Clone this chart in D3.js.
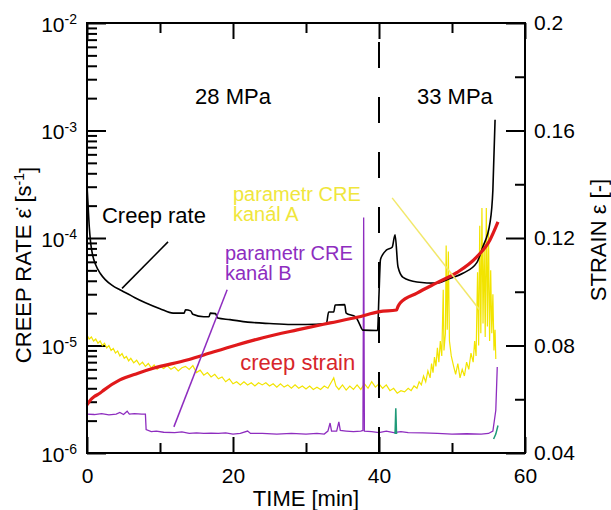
<!DOCTYPE html>
<html>
<head>
<meta charset="utf-8">
<script src="https://cdn.jsdelivr.net/npm/d3@7"></script>
<style>
    body { margin: 0; background: #fff; }
    svg text { font-family: "Liberation Sans", Arial, sans-serif; }
</style>
</head>
<body>
<svg id="chart" width="611" height="510"></svg>
<script>
// time [min], creep rate [1/s] (left log axis)
const creepRate = [
    [0, 3.1e-4], [0.15, 2.0e-4], [0.3, 1.3e-4], [0.5, 9.0e-5], [0.8, 6.8e-5], [1.2, 5.6e-5],
    [1.8, 4.7e-5], [2.5, 4.1e-5], [3.5, 3.6e-5], [4.5, 3.3e-5], [5.5, 3.05e-5], [6.5, 2.8e-5],
    [8, 2.5e-5], [10, 2.2e-5], [11.8, 2.0e-5], [13.3, 2.0e-5], [13.5, 2.15e-5], [14.2, 2.1e-5],
    [14.5, 1.95e-5], [16, 1.85e-5], [16.7, 1.85e-5], [16.9, 2.0e-5], [17.6, 1.98e-5], [17.9, 1.8e-5],
    [19.6, 1.74e-5], [22, 1.65e-5], [25, 1.6e-5], [28, 1.57e-5], [30, 1.57e-5], [32.8, 1.6e-5],
    [33.1, 2.05e-5], [33.8, 2.05e-5], [34.0, 2.38e-5], [35.3, 2.4e-5], [35.5, 2.0e-5], [36.8, 1.85e-5],
    [37.3, 1.6e-5], [37.8, 1.39e-5], [39.8, 1.38e-5], [40.0, 3.0e-5], [40.2, 6.3e-5], [40.5, 7.0e-5],
    [41.0, 7.7e-5], [41.8, 8.2e-5], [42.2, 1.07e-4], [42.6, 5.4e-5], [43.3, 4.3e-5], [45.2, 3.9e-5],
    [47.9, 3.8e-5], [49.7, 4.2e-5], [51.5, 4.7e-5], [53.4, 5.9e-5], [54.2, 8.2e-5], [55.2, 1.38e-4],
    [55.6, 2.8e-4], [55.9, 1.26e-3]
];

// time [min], creep strain [-] (right axis)
const creepStrain = [
    [0, 0.0579], [0.5, 0.0598], [1, 0.0610], [1.8, 0.0623], [2.3, 0.0634], [4.5, 0.0672],
    [7, 0.0697], [9.2, 0.0716], [13.7, 0.0746], [16, 0.0765], [20.5, 0.0802], [24.1, 0.0829],
    [28.8, 0.0858], [33.3, 0.0884], [37, 0.0905], [40.1, 0.0926], [42.4, 0.0932], [42.6, 0.0945],
    [42.9, 0.0958], [45.2, 0.0995], [47.9, 0.1033], [50.7, 0.1072], [53.4, 0.1130], [55.2, 0.1193],
    [56.3, 0.1260]
];

// parametr CRE, kanal A (left log axis)
const creA = [
    [0.0, 1.25e-5], [0.3, 1.15e-5], [0.6, 1.2e-5], [0.9, 1.1e-5], [1.2, 1.15e-5], [1.5, 1.05e-5],
    [1.8, 1.1e-5], [2.1, 1.0e-5], [2.4, 1.05e-5], [2.7, 9.5e-6], [3.0, 1.0e-5], [3.3, 9.0e-6],
    [3.6, 9.4e-6], [3.9, 8.5e-6], [4.2, 8.9e-6], [4.5, 8.0e-6], [4.8, 8.4e-6], [5.1, 7.6e-6],
    [5.4, 7.9e-6], [5.7, 7.2e-6], [6.0, 7.6e-6], [6.4, 6.9e-6], [6.8, 7.3e-6], [7.2, 6.6e-6],
    [7.6, 7.0e-6], [8.0, 6.4e-6], [8.4, 6.8e-6], [8.8, 6.2e-6], [9.2, 6.6e-6], [9.6, 6.0e-6],
    [10.0, 6.4e-6], [10.5, 6.1e-6], [11.0, 6.5e-6], [11.5, 6.0e-6], [12.0, 6.3e-6], [12.5, 5.8e-6],
    [13.0, 6.2e-6], [13.5, 6.4e-6], [14.0, 6.0e-6], [14.5, 6.5e-6], [15.0, 5.6e-6], [15.5, 5.9e-6],
    [16.0, 5.3e-6], [16.5, 5.6e-6], [17.0, 5.1e-6], [17.5, 5.4e-6], [18.0, 4.9e-6], [18.5, 5.1e-6],
    [19.0, 4.6e-6], [19.5, 4.9e-6], [20.0, 4.4e-6], [20.5, 4.6e-6], [21.0, 4.3e-6], [21.5, 4.6e-6],
    [22.0, 4.3e-6], [22.5, 4.5e-6], [23.0, 4.2e-6], [23.5, 4.5e-6], [24.0, 4.3e-6], [24.5, 4.5e-6],
    [25.0, 4.2e-6], [25.5, 4.4e-6], [26.0, 4.1e-6], [26.5, 4.4e-6], [27.0, 4.1e-6], [27.5, 4.3e-6],
    [28.0, 4.0e-6], [28.5, 4.3e-6], [29.0, 4.0e-6], [29.5, 4.2e-6], [30.0, 3.95e-6], [30.5, 4.2e-6],
    [31.0, 3.9e-6], [31.5, 4.1e-6], [32.0, 3.9e-6], [32.5, 4.2e-6], [33.0, 4.0e-6], [33.5, 4.6e-6],
    [33.8, 5.0e-6], [34.1, 4.2e-6], [34.5, 3.9e-6], [35.0, 4.3e-6], [35.5, 3.85e-6], [36.0, 4.2e-6],
    [36.5, 3.9e-6], [37.0, 4.3e-6], [37.5, 3.9e-6], [38.0, 4.4e-6], [38.5, 4.0e-6], [39.0, 4.6e-6],
    [39.5, 4.1e-6], [40.0, 4.4e-6], [40.5, 4.0e-6], [41.0, 4.3e-6], [41.5, 3.8e-6], [42.0, 4.0e-6],
    [42.5, 3.6e-6], [43.0, 3.8e-6], [43.5, 3.7e-6], [44.0, 4.0e-6], [44.4, 3.8e-6], [44.8, 4.2e-6],
    [45.2, 4.0e-6], [45.5, 4.6e-6], [45.8, 4.3e-6], [46.1, 5.2e-6], [46.4, 4.6e-6], [46.7, 5.8e-6],
    [47.0, 5.0e-6], [47.2, 6.8e-6], [47.4, 5.6e-6], [47.6, 7.8e-6], [47.8, 6.4e-6], [48.0, 9.5e-6],
    [48.2, 7.0e-6], [48.4, 1.1e-5], [48.6, 8.0e-6], [48.8, 3.3e-5], [48.9, 9.0e-6], [49.1, 1.3e-5],
    [49.2, 8.5e-5], [49.35, 1.4e-5], [49.5, 7.5e-5], [49.65, 1.1e-5], [49.9, 8.0e-6], [50.2, 6.5e-6],
    [50.5, 5.4e-6], [50.8, 6.8e-6], [51.1, 5.0e-6], [51.4, 6.0e-6], [51.7, 5.2e-6], [52.0, 7.0e-6],
    [52.3, 6.0e-6], [52.6, 8.5e-6], [52.9, 7.0e-6], [53.1, 1.1e-5], [53.3, 8.0e-6], [53.5, 4.8e-5],
    [53.65, 1.0e-5], [53.8, 1.3e-4], [53.95, 1.3e-5], [54.1, 1.9e-4], [54.25, 1.6e-5], [54.4, 9.0e-5],
    [54.55, 1.2e-5], [54.7, 1.9e-4], [54.85, 1.5e-5], [55.0, 1.2e-4], [55.15, 1.1e-5], [55.3, 5.0e-5],
    [55.45, 1.3e-5], [55.6, 3.0e-5], [55.75, 9.0e-6], [55.9, 1.4e-5], [56.0, 7.5e-6]
];

// parametr CRE, kanal B (left log axis)
const creB = [
    [0, 2.3e-6], [1, 2.28e-6], [2, 2.32e-6], [3, 2.26e-6], [4, 2.3e-6], [4.5, 2.38e-6],
    [5, 2.28e-6], [5.5, 2.45e-6], [5.8, 2.3e-6], [6.5, 2.32e-6], [7.5, 2.3e-6], [8.0, 2.3e-6],
    [8.1, 1.65e-6], [8.8, 1.58e-6], [9.5, 1.6e-6], [10.5, 1.56e-6], [12, 1.55e-6], [13, 1.57e-6],
    [14, 1.52e-6], [15, 1.54e-6], [16, 1.52e-6], [17, 1.53e-6], [18, 1.52e-6], [19, 1.54e-6],
    [20, 1.5e-6], [21, 1.52e-6], [22, 1.6e-6], [22.4, 1.52e-6], [24, 1.52e-6], [26, 1.5e-6],
    [28, 1.52e-6], [30, 1.5e-6], [31.5, 1.52e-6], [32.5, 1.5e-6], [33.0, 1.6e-6], [33.3, 1.9e-6],
    [33.5, 1.6e-6], [34.2, 1.6e-6], [34.5, 1.95e-6], [34.7, 1.62e-6], [35.5, 1.6e-6], [36.5, 1.58e-6],
    [37.5, 1.6e-6], [37.8, 1.62e-6], [37.9, 1.55e-4], [38.0, 1.6e-6], [39, 1.58e-6], [40, 1.55e-6],
    [41, 1.6e-6], [42, 1.55e-6], [43, 1.58e-6], [44, 1.55e-6], [46, 1.54e-6], [48, 1.52e-6],
    [50, 1.5e-6], [52, 1.51e-6], [54, 1.5e-6], [55, 1.52e-6], [55.6, 1.6e-6], [56.0, 2.5e-6],
    [56.2, 6.3e-6]
];

// short green traces
const creGreen = [
    [[42.2, 1.5e-6], [42.3, 2.6e-6], [42.4, 1.5e-6]],
    [[55.7, 1.35e-6], [56.0, 1.5e-6], [56.3, 1.8e-6]]
];

const xMajor = [0, 20, 40, 60];
const xMinor = [10, 30, 50];
const rateMajor = [1e-6, 1e-5, 1e-4, 1e-3, 1e-2];
const strainMajor = [0.04, 0.08, 0.12, 0.16, 0.2];
const strainMinor = [0.06, 0.1, 0.14, 0.18];
const stressChange = 40;

const stressLabels = ['28 MPa', '33 MPa'];
const labelA = ['parametr CRE', 'kanál A'];
const labelB = ['parametr CRE', 'kanál B'];

let svg = d3.select('#chart');

let x = d3.scaleLinear().domain([0, 60]).range([87, 525]);
let yRate = d3.scaleLog().domain([1e-6, 1e-2]).range([453, 23]);
let yStrain = d3.scaleLinear().domain([0.04, 0.2]).range([453, 23]);

let rateLine = d3.line().x(d => x(d[0])).y(d => yRate(d[1]));
let smoothRate = d3.line().x(d => x(d[0])).y(d => yRate(d[1])).curve(d3.curveMonotoneX);
let strainLine = d3.line().x(d => x(d[0])).y(d => yStrain(d[1])).curve(d3.curveMonotoneX);

// minor log ticks 2..9 per decade
let rateMinor = [];
rateMajor.slice(0, -1).forEach(m => {
    for (let k = 2; k <= 9; k++) rateMinor.push(m * k);
});

function styleAxis(g) {
    g.select('.domain').remove();
    g.selectAll('.tick line').attr('stroke', '#000').attr('stroke-width', 2);
    g.selectAll('.tick text').attr('fill', '#000').attr('font-size', 21);
}

// left axis
svg.append('g').attr('transform', 'translate(87,0)')
    .call(d3.axisLeft(yRate).tickValues(rateMinor).tickSize(-10).tickFormat(''))
    .call(styleAxis);
svg.append('g').attr('transform', 'translate(87,0)')
    .call(d3.axisLeft(yRate).tickValues(rateMajor).tickSize(-19).tickPadding(10))
    .call(styleAxis)
    .selectAll('.tick text')
    .each(function(d) {
        let e = Math.round(Math.log10(d));
        let t = d3.select(this).text('10').attr('dy', '0.4em');
        t.append('tspan').attr('dy', '-0.55em').attr('font-size', 14).text(e);
    });

// right axis
svg.append('g').attr('transform', 'translate(525,0)')
    .call(d3.axisRight(yStrain).tickValues(strainMinor).tickSize(-10).tickFormat(''))
    .call(styleAxis);
svg.append('g').attr('transform', 'translate(525,0)')
    .call(d3.axisRight(yStrain).tickValues(strainMajor).tickSize(-19).tickPadding(9)
        .tickFormat(d3.format('~g')))
    .call(styleAxis);

// bottom / top axes
svg.append('g').attr('transform', 'translate(0,453)')
    .call(d3.axisBottom(x).tickValues(xMinor).tickSize(-10).tickFormat(''))
    .call(styleAxis);
svg.append('g').attr('transform', 'translate(0,453)')
    .call(d3.axisBottom(x).tickValues(xMajor).tickSize(-16).tickPadding(15))
    .call(styleAxis);
svg.append('g').attr('transform', 'translate(0,23)')
    .call(d3.axisTop(x).tickValues(xMinor).tickSize(-10).tickFormat(''))
    .call(styleAxis);
svg.append('g').attr('transform', 'translate(0,23)')
    .call(d3.axisTop(x).tickValues(xMajor).tickSize(-16).tickFormat(''))
    .call(styleAxis);

// data lines
svg.append('path').datum(creA)
    .attr('d', rateLine).attr('fill', 'none')
    .attr('stroke', '#f2e400').attr('stroke-width', 1.2);

svg.append('path').datum(creB)
    .attr('d', rateLine).attr('fill', 'none')
    .attr('stroke', '#8e2dbf').attr('stroke-width', 1.3);

creGreen.forEach(seg => {
    svg.append('path').datum(seg)
        .attr('d', rateLine).attr('fill', 'none')
        .attr('stroke', '#1f9a78').attr('stroke-width', 1.5);
});

svg.append('path').datum(creepRate)
    .attr('d', smoothRate).attr('fill', 'none')
    .attr('stroke', '#000').attr('stroke-width', 1.6);

svg.append('path').datum(creepStrain)
    .attr('d', strainLine).attr('fill', 'none')
    .attr('stroke', '#e0191b').attr('stroke-width', 3.2);

// stress change
svg.append('line')
    .attr('x1', x(stressChange)).attr('x2', x(stressChange))
    .attr('y1', yRate(1e-2)).attr('y2', yRate(1e-6))
    .attr('stroke', '#000').attr('stroke-width', 2)
    .attr('stroke-dasharray', '26,29').attr('stroke-dashoffset', 36);

// frame
svg.append('rect')
    .attr('x', x(0)).attr('y', yRate(1e-2))
    .attr('width', x(60) - x(0)).attr('height', yRate(1e-6) - yRate(1e-2))
    .attr('fill', 'none').attr('stroke', '#000').attr('stroke-width', 2);

// leader lines
function leader(p1, p2, color) {
    svg.append('line')
        .attr('x1', x(p1[0])).attr('y1', yRate(p1[1]))
        .attr('x2', x(p2[0])).attr('y2', yRate(p2[1]))
        .attr('stroke', color).attr('stroke-width', 1.5);
}
leader([11.1, 9.2e-5], [4.8, 3.4e-5], '#000');
leader([41.8, 2.36e-4], [53.8, 2.14e-5], '#f2e86a');
leader([19.2, 3.3e-5], [11.9, 1.75e-6], '#8e2dbf');

// text labels
function label(lines, t, v, color, size, anchor) {
    let txt = svg.append('text')
        .attr('x', x(t)).attr('y', yRate(v))
        .attr('fill', color).attr('font-size', size)
        .attr('text-anchor', anchor || 'start');
    lines.forEach((s, i) => {
        txt.append('tspan').attr('x', x(t)).attr('dy', i === 0 ? 0 : 20).text(s);
    });
}
label([stressLabels[0]], 20, 1.77e-3, '#000', 22, 'middle');
label([stressLabels[1]], 50.4, 1.77e-3, '#000', 22, 'middle');
label(['Creep rate'], 2.05, 1.38e-4, '#000', 22);
label(labelA, 20, 2.2e-4, '#f0e63c', 20);
label(labelB, 18.9, 6.3e-5, '#8e2dbf', 20);
label(['creep strain'], 21, 5.9e-6, '#d7262b', 22);

// axis titles
svg.append('text')
    .attr('x', x(30)).attr('y', 506)
    .attr('text-anchor', 'middle').attr('font-size', 22)
    .text('TIME [min]');

let leftTitle = svg.append('text')
    .attr('transform', 'translate(31,265) rotate(-90)')
    .attr('text-anchor', 'middle').attr('font-size', 22);
leftTitle.append('tspan').text('CREEP RATE \u03B5\u0307 [s');
leftTitle.append('tspan').attr('dy', '-0.5em').attr('font-size', 14).text('-1');
leftTitle.append('tspan').attr('dy', '0.5em').text(']');

svg.append('text')
    .attr('transform', 'translate(606,240) rotate(-90)')
    .attr('text-anchor', 'middle').attr('font-size', 22)
    .text('STRAIN \u03B5 [-]');
</script>
</body>
</html>
